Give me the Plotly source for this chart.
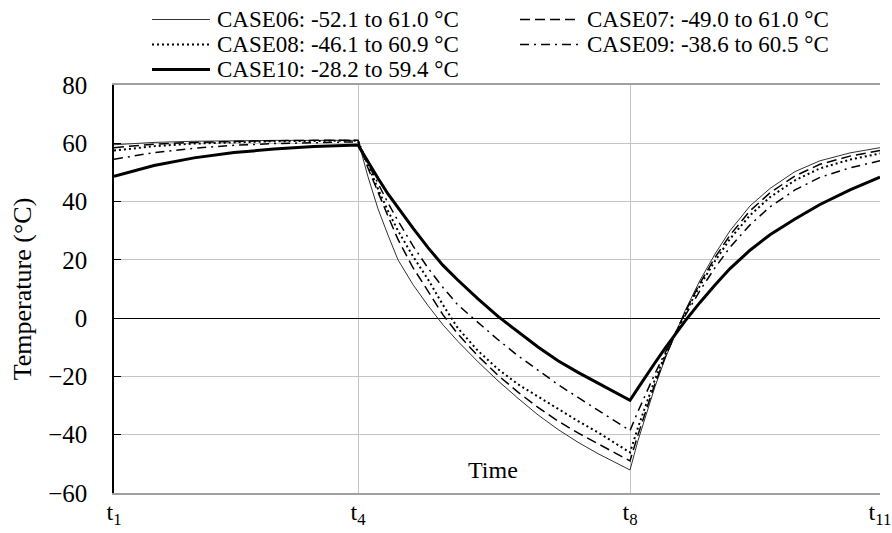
import plotly.graph_objects as go

# Time axis (arbitrary units); the four marked instants of the cycle
tick_times = [0.0, 24.4, 51.6, 76.6]
tick_labels = ["t<sub>1</sub>", "t<sub>4</sub>", "t<sub>8</sub>", "t<sub>11</sub>"]

# Sampling instants shared by all cases: heating (t1-t4), cooling (t4-t8), reheating (t8-t11)
time = [0.0, 4.0, 8.0, 12.0, 16.0, 20.0, 24.4,
        25.4, 26.4, 27.4, 28.4, 29.9, 31.4, 32.9, 34.4, 36.4, 38.4, 40.4, 42.4,
        44.4, 46.4, 48.4, 50.0, 51.6,
        52.4, 53.2, 54.1, 55.1, 56.1, 57.1, 58.6, 60.1, 61.6, 63.6, 65.6, 68.1,
        70.6, 73.6, 76.6]

case06 = [59.5, 60.3, 60.7, 60.9, 61.0, 61.0, 61.0,
          48.5, 37.5, 28.5, 20.0, 11.5, 4.3, -2.3, -8.0, -15.0, -21.5, -27.5, -33.2,
          -38.2, -42.6, -46.5, -49.4, -52.1,
          -42.0, -33.0, -23.5, -14.0, -5.5, 2.5, 13.0, 22.0, 30.0, 38.5, 44.5, 50.3,
          54.0, 56.7, 58.5]
case07 = [58.5, 59.7, 60.3, 60.7, 60.9, 61.0, 61.0,
          51.5, 43.0, 35.0, 27.0, 17.3, 9.3, 1.1, -5.5, -13.0, -19.6, -25.4, -30.6,
          -35.3, -39.4, -43.2, -46.2, -49.0,
          -40.0, -31.5, -22.5, -13.5, -5.5, 2.0, 12.0, 20.8, 28.5, 36.8, 43.0, 48.8,
          52.8, 55.6, 57.5]
case08 = [57.5, 59.0, 59.9, 60.4, 60.7, 60.8, 60.9,
          52.5, 44.3, 36.8, 30.0, 21.2, 13.3, 4.5, -3.5, -11.2, -17.5, -22.7, -27.0,
          -31.3, -35.3, -39.2, -42.7, -46.1,
          -37.5, -29.5, -21.0, -12.8, -5.3, 1.6, 11.2, 19.6, 27.2, 35.3, 41.5, 47.3,
          51.4, 54.4, 56.5]
case09 = [54.5, 56.8, 58.3, 59.3, 59.9, 60.3, 60.5,
          53.0, 46.0, 39.5, 33.4, 24.8, 17.2, 10.5, 4.5, -1.6, -7.4, -12.9, -18.0,
          -22.8, -27.2, -31.6, -35.2, -38.6,
          -32.0, -25.8, -19.0, -12.0, -5.3, 0.8, 9.5, 17.3, 24.3, 32.0, 38.2, 44.0,
          48.3, 51.6, 54.0]
case10 = [48.7, 52.4, 55.0, 56.8, 58.0, 58.9, 59.4,
          53.6, 48.0, 42.6, 37.8, 30.9, 24.2, 18.1, 13.0, 6.6, 0.6, -4.8, -9.9,
          -14.6, -18.6, -22.3, -25.3, -28.2,
          -24.0, -19.8, -15.3, -10.4, -5.6, -1.0, 5.4, 11.4, 17.0, 23.3, 28.6, 34.0,
          39.0, 44.0, 48.4]

case_names = ["CASE06", "CASE07", "CASE08", "CASE09", "CASE10"]
case_values = [case06, case07, case08, case09, case10]

# Line style per case
styles = {
    "CASE06": dict(color="#333333", width=1.0, dash="solid"),
    "CASE07": dict(color="black", width=1.5, dash="10px,5px"),
    "CASE08": dict(color="black", width=2.0, dash="2px,3px"),
    "CASE09": dict(color="black", width=1.5, dash="9px,5px,2px,5px"),
    "CASE10": dict(color="black", width=3.0, dash="solid"),
}

FONT = "Liberation Serif"
W, H = 892, 533
M = dict(l=114, r=12, t=85, b=40)
PW, PH = W - M["l"] - M["r"], H - M["t"] - M["b"]


def px_x(x):
    return (x - M["l"]) / PW


def px_y(y):
    return (H - M["b"] - y) / PH


fig = go.Figure()
for name, vals in zip(case_names, case_values):
    fig.add_trace(go.Scatter(x=time, y=vals, mode="lines", name=name,
                             line=styles[name], showlegend=False))

# Two-column key placed above the plot area
key_cols = [(152, 210), (520, 580)]
key_rows = [19.5, 44.5, 69.5]
shapes, annotations = [], []
for i, (name, vals) in enumerate(zip(case_names, case_values)):
    x0, x1 = key_cols[i % 2]
    yr = key_rows[i // 2]
    st = styles[name]
    shapes.append(dict(type="line", xref="paper", yref="paper",
                       x0=px_x(x0), x1=px_x(x1), y0=px_y(yr), y1=px_y(yr),
                       line=dict(color=st["color"], width=st["width"], dash=st["dash"])))
    label = f"{name}: {min(vals):.1f} to {max(vals):.1f} °C"
    annotations.append(dict(xref="paper", yref="paper", x=px_x(x1 + 5), y=px_y(yr),
                            xanchor="left", yanchor="middle", showarrow=False,
                            text=label, font=dict(family=FONT, size=23, color="black")))

annotations.append(dict(xref="paper", yref="paper", x=px_x(493), y=px_y(470),
                        xanchor="center", yanchor="middle", showarrow=False,
                        text="Time", font=dict(family=FONT, size=24, color="black")))

fig.update_layout(
    width=W, height=H, margin=M,
    paper_bgcolor="white", plot_bgcolor="white",
    font=dict(family=FONT, size=24, color="black"),
    shapes=shapes, annotations=annotations,
    xaxis=dict(range=[tick_times[0], tick_times[-1]], tickmode="array",
               tickvals=tick_times, ticktext=tick_labels, automargin=False,
               showgrid=True, gridcolor="#c4c4c4", gridwidth=1,
               showline=True, linecolor="#a0a0a0", linewidth=1.5, mirror=True,
               zeroline=False, ticks="", ticklabelstandoff=-4,
               tickfont=dict(family=FONT, size=24)),
    yaxis=dict(range=[-60, 80], tickmode="array", automargin=False,
               tickvals=[-60, -40, -20, 0, 20, 40, 60, 80],
               showgrid=True, gridcolor="#c4c4c4", gridwidth=1,
               showline=True, linecolor="black", linewidth=1.5,
               zeroline=True, zerolinecolor="black", zerolinewidth=1,
               ticks="inside", ticklen=7, tickcolor="black",
               ticklabelstandoff=20,
               tickfont=dict(family=FONT, size=25),
               title=dict(text="Temperature (°C)", standoff=9,
                          font=dict(family=FONT, size=26))),
)

fig.write_html("out.html")
